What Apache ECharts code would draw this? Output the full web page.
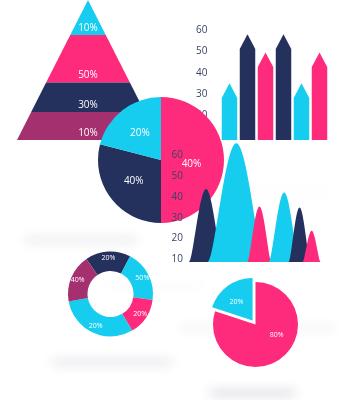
<!DOCTYPE html>
<html>
<head>
<meta charset="utf-8">
<script src="https://cdn.jsdelivr.net/npm/echarts@6/dist/echarts.min.js"></script>
<style>
html,body{margin:0;padding:0;background:#fff;}
#c{width:349px;height:400px;}
</style>
</head>
<body>
<div id="c"></div>
<script>
// ---------- data ----------
const pyramidBands = [25, 34, 21, 20];          // relative band heights, top to bottom
const pyramidLabels = ['10%', '50%', '30%', '10%'];

const barCategories = ['A', 'B', 'C', 'D', 'E', 'F'];
const barValues = [35, 58, 49.5, 58, 35, 49.5];
const barBase = 8.4;

const axisMin = 10, axisMax = 60, axisStep = 10;

const pie1Values = [50, 29, 21];
const pie1Labels = ['40%', '40%', '20%'];

const mountainX = [1.55, 4.3, 6.4, 8.65, 10.05, 11.15];
const mountainPeak = [43.7, 65.6, 35.3, 42.1, 34.9, 23.8];
const mountainWidth = [3.1, 5.2, 2.2, 2.8, 2.0, 1.65];
const mountainBase = 8.8;

const donutValues = [17.2, 19.6, 14.3, 30.7, 18.2];
const donutLabels = ['20%', '50%', '20%', '20%', '40%'];

const pie2Values = [80, 20];
const pie2Labels = ['80%', '20%'];

// ---------- styles ----------
const CYAN = '#17cdef', PINK = '#fe2a7b', NAVY = '#24315d', PURPLE = '#a5306f';
const AXIS_TEXT = '#3b4366';
const FONT = 'Open Sans';
const pyramidColors = [CYAN, PINK, NAVY, PURPLE];
const barColors = [CYAN, NAVY, PINK, NAVY, CYAN, PINK];
const pie1Colors = [PINK, NAVY, CYAN];
const mountainColors = [NAVY, CYAN, PINK, CYAN, NAVY, PINK];
const donutColors = [NAVY, CYAN, PINK, CYAN, PURPLE];
const pie2Colors = [PINK, CYAN];
const mountainPath = 'M0,10 C1.2,10 3,0 5,0 C7,0 8.8,10 10,10 Z';

const pyramidCum = [0];
pyramidBands.forEach((b, i) => pyramidCum.push(pyramidCum[i] + b));
const pyramidTotal = pyramidCum[pyramidCum.length - 1];

const shadows = [
  {x: 25, y: 240, w: 112, a: 0.45},
  {x: 215, y: 192, w: 120, a: 0.18},
  {x: 105, y: 286, w: 100, a: 0.2},
  {x: 180, y: 328, w: 155, a: 0.35},
  {x: 52, y: 362, w: 120, a: 0.5},
  {x: 210, y: 393, w: 85, a: 0.6}
];

const chart = echarts.init(document.getElementById('c'), null, {renderer: 'canvas'});

const valueAxisStyle = {
  type: 'value', min: axisMin, max: axisMax, interval: axisStep,
  axisLine: {show: false}, axisTick: {show: false}, splitLine: {show: false},
  axisLabel: {color: AXIS_TEXT, fontSize: 10, fontFamily: FONT}
};

const option = {
  animation: false,
  backgroundColor: '#ffffff',
  graphic: shadows.map(s => ({
    type: 'rect', z: -10, silent: true,
    shape: {x: s.x, y: s.y - 1000 - 1.5, width: s.w, height: 3, r: 1.5},
    style: {fill: 'rgba(40,48,80,' + s.a + ')', shadowBlur: 11, shadowColor: 'rgba(40,48,80,' + s.a + ')', shadowOffsetY: 1000}
  })),
  grid: [
    {left: 17, top: 0, width: 142, height: 140},
    {left: 220.5, top: 30, width: 108, height: 106.7},
    {left: 189, top: 155, width: 132, height: 104.5}
  ],
  xAxis: [
    {gridIndex: 0, type: 'value', min: -1, max: 1, show: false},
    {gridIndex: 1, type: 'category', data: barCategories, show: false},
    {gridIndex: 2, type: 'value', min: 0, max: 12, show: false}
  ],
  yAxis: [
    {gridIndex: 0, type: 'value', min: 0, max: pyramidTotal, inverse: true, show: false},
    Object.assign({gridIndex: 1, z: 1}, valueAxisStyle, {axisLabel: Object.assign({}, valueAxisStyle.axisLabel, {margin: 13})}),
    Object.assign({gridIndex: 2, z: 6}, valueAxisStyle, {axisLabel: Object.assign({}, valueAxisStyle.axisLabel, {margin: 6})})
  ],
  series: [
    {
      type: 'custom', xAxisIndex: 0, yAxisIndex: 0, z: 1, silent: true,
      data: pyramidBands.map((b, i) => [i, b]),
      renderItem: function (params, api) {
        const i = params.dataIndex;
        const t = pyramidCum[i], b = pyramidCum[i + 1];
        const tw = t / pyramidTotal, bw = b / pyramidTotal;
        const p1 = api.coord([-tw, t]), p2 = api.coord([tw, t]);
        const p3 = api.coord([bw, b]), p4 = api.coord([-bw, b]);
        const c = api.coord([0, b]);
        return {
          type: 'group',
          children: [
            {type: 'polygon', shape: {points: [p1, p2, p3, p4]}, style: {fill: pyramidColors[i]}},
            {type: 'text', x: c[0], y: c[1] - 7, style: {text: pyramidLabels[i], fill: '#fff', fontSize: 10, fontFamily: FONT, align: 'center', verticalAlign: 'middle'}}
          ]
        };
      }
    },
    {
      type: 'custom', xAxisIndex: 1, yAxisIndex: 1, z: 2, silent: true,
      data: barValues.map((v, i) => [i, v]),
      renderItem: function (params, api) {
        const i = params.dataIndex;
        const tip = api.coord([i, api.value(1)]);
        const base = api.coord([i, barBase]);
        const w = api.size([1, 0])[0] * 0.86;
        const x = tip[0], sh = tip[1] + w * 0.95;
        return {
          type: 'polygon',
          shape: {points: [[x - w / 2, base[1]], [x - w / 2, sh], [x, tip[1]], [x + w / 2, sh], [x + w / 2, base[1]]]},
          style: {fill: barColors[i]}
        };
      }
    },
    {
      type: 'pie', z: 3, silent: true,
      center: [161, 160], radius: 63, startAngle: 90, clockwise: true,
      label: {show: true, position: 'inside', color: '#fff', fontSize: 10, fontFamily: FONT,
        formatter: p => pie1Labels[p.dataIndex]},
      labelLine: {show: false},
      labelLayout: p => (p.dataIndex === 0 ? {dx: -4, dy: 4} : {}),
      data: pie1Values.map((v, i) => ({value: v, itemStyle: {color: pie1Colors[i]}}))
    },
    {
      type: 'custom', xAxisIndex: 2, yAxisIndex: 2, z: 5, silent: true,
      data: mountainX.map((x, i) => [x, mountainPeak[i], mountainWidth[i]]),
      renderItem: function (params, api) {
        const i = params.dataIndex;
        const xc = api.value(0), pk = api.value(1), w = api.value(2);
        const p = api.coord([xc, pk]);
        const l = api.coord([xc - w / 2, mountainBase]);
        const r = api.coord([xc + w / 2, mountainBase]);
        return {
          type: 'path',
          shape: {pathData: mountainPath, x: l[0], y: p[1], width: r[0] - l[0], height: l[1] - p[1], layout: 'cover'},
          style: {fill: mountainColors[i]}
        };
      }
    },
    {
      type: 'pie', z: 3, silent: true,
      center: [110.5, 294], radius: [23, 42.5], startAngle: 124.5, clockwise: true,
      label: {show: true, position: 'inside', color: '#fff', fontSize: 7, fontFamily: FONT,
        formatter: p => donutLabels[p.dataIndex]},
      labelLine: {show: false},
      data: donutValues.map((v, i) => ({value: v, itemStyle: {color: donutColors[i]}}))
    },
    {
      type: 'pie', z: 3,
      center: [255.5, 324.5], radius: 42.5, startAngle: 90, clockwise: true,
      selectedMode: 'single', selectedOffset: 5,
      emphasis: {disabled: true},
      label: {show: true, position: 'inside', color: '#fff', fontSize: 7, fontFamily: FONT,
        formatter: p => pie2Labels[p.dataIndex]},
      labelLine: {show: false},
      labelLayout: p => (p.dataIndex === 0 ? {dx: 7, dy: -9} : {dx: -2, dy: 1}),
      data: pie2Values.map((v, i) => ({value: v, selected: i === 1, itemStyle: {color: pie2Colors[i]}}))
    }
  ]
};
chart.setOption(option);
</script>
</body>
</html>
